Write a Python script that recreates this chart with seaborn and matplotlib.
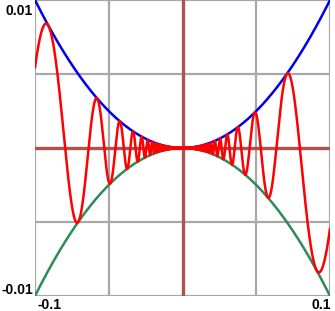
import numpy as np
import matplotlib
matplotlib.use("Agg")
import matplotlib.pyplot as plt
import seaborn as sns
import pandas as pd

# Chart content: f(x) = x^2 sin(1/x) with envelopes +x^2 and -x^2
x_min, x_max = -0.1, 0.1
y_min, y_max = -0.01, 0.01
x_tick_labels = ["-0.1", "0.1"]
y_tick_labels = ["0.01", "-0.01"]
x_grid = [-0.1, -0.05, 0.0, 0.05, 0.1]
y_grid = [-0.01, -0.005, 0.0, 0.005, 0.01]

sns.set_theme(style="white")
plt.rcParams['font.family'] = ['Liberation Sans', 'DejaVu Sans']

x = np.concatenate([np.linspace(x_min, -1e-5, 40000), [0.0], np.linspace(1e-5, x_max, 40000)])
with np.errstate(divide='ignore', invalid='ignore'):
    f = np.where(x == 0, 0.0, x**2 * np.sin(1.0 / np.where(x == 0, 1, x)))
df = pd.DataFrame({"x": x, "upper": x**2, "lower": -x**2, "f": f})

fig = plt.figure(figsize=(3.35, 3.11), dpi=100)
ax = fig.add_axes([35/335, 15/311, 295/335, 296/311])
ax.set_xlim(x_min, x_max)
ax.set_ylim(y_min, y_max)

for gx in x_grid:
    if gx != 0:
        ax.axvline(gx, color="#a8a8a8", lw=1.6, zorder=0)
for gy in y_grid:
    if gy != 0:
        ax.axhline(gy, color="#a8a8a8", lw=1.6, zorder=0)
ax.axvline(0, color="#b05050", lw=2.4, zorder=1)
ax.axhline(0, color="#b05050", lw=2.4, zorder=1)

sns.lineplot(data=df, x="x", y="lower", ax=ax, color="#2e8b57", lw=1.8, zorder=2, estimator=None, sort=False)
sns.lineplot(data=df, x="x", y="upper", ax=ax, color="#0000ee", lw=1.8, zorder=2, estimator=None, sort=False)
sns.lineplot(data=df, x="x", y="f", ax=ax, color="#ff0000", lw=1.8, zorder=3, estimator=None, sort=False)

ax.set_xticks([])
ax.set_yticks([])
ax.set_xlabel("")
ax.set_ylabel("")
for s in ax.spines.values():
    s.set_visible(False)

kw = dict(fontsize=10, fontweight="bold", color="black")
fig.text(33/335, 1 - 4/311, y_tick_labels[0], ha="right", va="top", **kw)
fig.text(33/335, 1 - 297/311, y_tick_labels[1], ha="right", va="bottom", **kw)
fig.text(37/335, 1 - 309/311, x_tick_labels[0], ha="left", va="baseline", **kw)
fig.text(331/335, 1 - 309/311, x_tick_labels[1], ha="right", va="baseline", **kw)

fig.savefig("out.png", dpi=100, facecolor="white")
